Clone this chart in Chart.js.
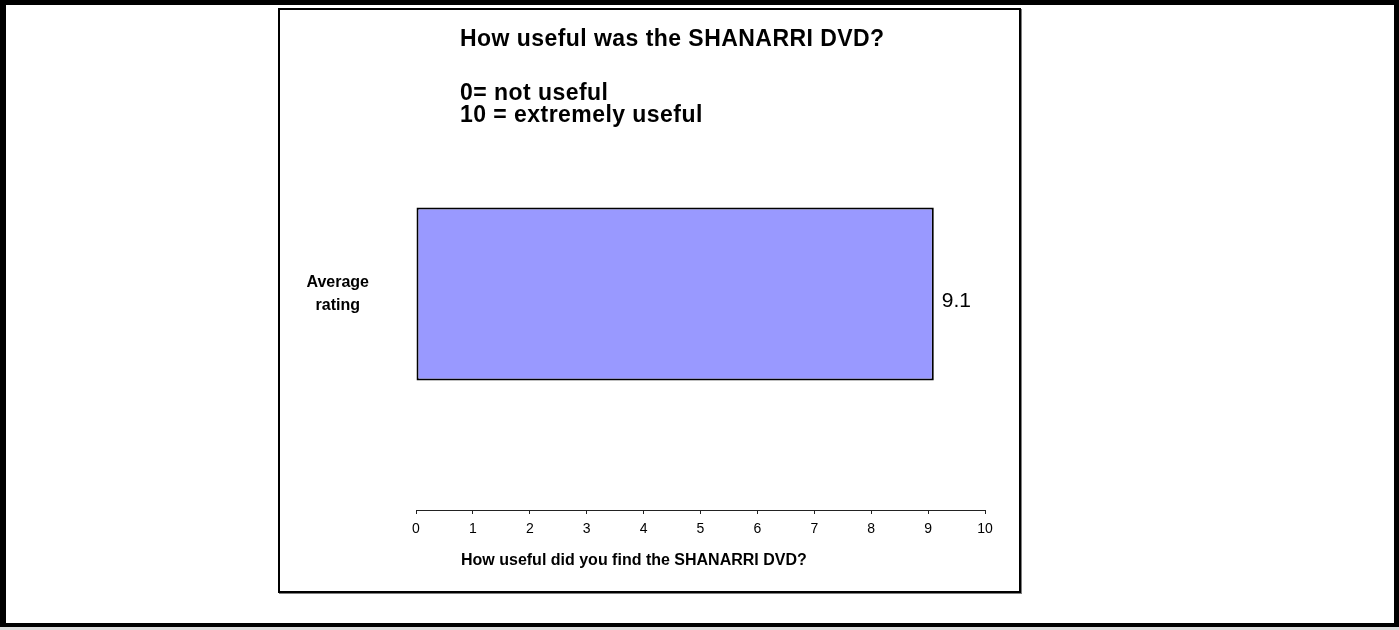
<!DOCTYPE html>
<html>
<head>
<meta charset="utf-8">
<script src="https://cdn.jsdelivr.net/npm/chart.js@4"></script>
<style>
  html, body { margin: 0; padding: 0; background: #fff; }
  body { width: 1399px; height: 630px; position: relative; overflow: hidden; font-family: "Liberation Sans", Arial, sans-serif; }
  .frame { position: absolute; left: 0; top: 0; width: 1399px; height: 627px; box-sizing: border-box;
           border-style: solid; border-color: #000; border-width: 5px 5px 4px 6px; }
  .strip { position: absolute; left: 0; top: 627px; width: 1399px; height: 3px; background: #dcdcdc; }
  .box { position: absolute; left: 278px; top: 8px; width: 743px; height: 585px; box-sizing: border-box;
         border: 2px solid #000; box-shadow: 1px 1px 0 #7f7f7f; }
  canvas { position: absolute; left: 0; top: 0; }
  .txt { position: absolute; white-space: nowrap; font-weight: bold; color: #000; }
  .head { font-size: 23px; line-height: 23px; letter-spacing: 0.45px; left: 460px; }
  .xtitle { font-size: 16px; line-height: 16px; left: 461px; top: 552px; }
</style>
</head>
<body>
<div class="frame"></div>
<div class="strip"></div>
<div class="box"></div>
<canvas id="chart" width="1399" height="630"></canvas>
<div class="txt head" style="top:27px">How useful was the SHANARRI DVD?</div>
<div class="txt head" style="top:81px">0= not useful</div>
<div class="txt head" style="top:103px">10 = extremely useful</div>
<div class="txt xtitle">How useful did you find the SHANARRI DVD?</div>
<script>
// chart values
const categories = [['Average', 'rating']];
const ratings = [9.1];
const axisMin = 0;
const axisMax = 10;
const axisStep = 1;

const FONT = '"Liberation Sans", Arial, sans-serif';

// writes the value just to the right of each bar
const valueLabels = {
  id: 'valueLabels',
  afterDatasetsDraw(chart) {
    const ctx = chart.ctx;
    const meta = chart.getDatasetMeta(0);
    ctx.save();
    ctx.font = '21px ' + FONT;
    ctx.fillStyle = '#000';
    ctx.textAlign = 'left';
    ctx.textBaseline = 'alphabetic';
    meta.data.forEach((bar, i) => {
      ctx.fillText(String(ratings[i]), bar.x + 8, bar.y + 13);
    });
    ctx.restore();
  }
};

new Chart(document.getElementById('chart'), {
  type: 'bar',
  data: {
    labels: categories,
    datasets: [{
      data: ratings,
      backgroundColor: '#9999FF',
      borderColor: '#000',
      borderWidth: 2,
      borderSkipped: false,
      barPercentage: 0.4,
      categoryPercentage: 1
    }]
  },
  options: {
    indexAxis: 'y',
    responsive: false,
    animation: false,
    devicePixelRatio: 1,
    layout: { padding: { left: 280, right: 414, top: 78, bottom: 90 } },
    plugins: {
      legend: { display: false },
      tooltip: { enabled: false },
      title: { display: false }
    },
    scales: {
      x: {
        type: 'linear',
        min: axisMin,
        max: axisMax,
        afterFit(scale) { scale.height = 30; },
        ticks: {
          stepSize: axisStep,
          color: '#000',
          padding: 7,
          maxRotation: 0,
          font: { family: FONT, size: 14 }
        },
        grid: {
          drawOnChartArea: false,
          drawTicks: true,
          tickLength: 4,
          color: '#222',
          lineWidth: 1
        },
        border: { display: true, color: '#222', width: 1 }
      },
      y: {
        afterFit(scale) { scale.width = 136; },
        ticks: {
          color: '#000',
          crossAlign: 'center',
          padding: 47,
          font: { family: FONT, size: 16, weight: 'bold', lineHeight: 1.4 }
        },
        grid: { display: false, drawTicks: false },
        border: { display: false }
      }
    }
  },
  plugins: [valueLabels]
});
</script>
</body>
</html>
